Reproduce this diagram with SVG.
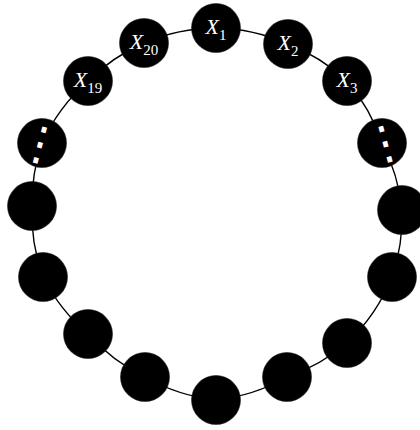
<svg xmlns="http://www.w3.org/2000/svg" width="420" height="430" viewBox="0 0 420 430">
<style>
.node{fill:#000;stroke:#222;stroke-width:0.6}
.edge{fill:none;stroke:#000;stroke-width:1.4}
.lbl{fill:#fff;font-family:"Liberation Serif",serif;font-size:22px;font-style:italic;text-anchor:middle}
.sub{font-size:15px;font-style:normal}
.dots{fill:#fff;font-family:"Noto Sans CJK SC",sans-serif;font-size:46px;text-anchor:middle}
</style>
<rect width="420" height="430" fill="#fff"/>
<g id="connectors">
<path class="edge" d="M216,28 A186,186 0 0 1 288,44 A186,186 0 0 1 347,81 A186,186 0 0 1 382,143 A186,186 0 0 1 402,210 A186,186 0 0 1 392,277 A186,186 0 0 1 347,343 A186,186 0 0 1 287,377 A186,186 0 0 1 216,400 A186,186 0 0 1 145,377 A186,186 0 0 1 88,334 A186,186 0 0 1 43,277 A186,186 0 0 1 32,206 A186,186 0 0 1 42,143 A186,186 0 0 1 88,81 A186,186 0 0 1 144,43 A186,186 0 0 1 216,28 Z"/>
</g>
<g id="n1"><circle class="node" cx="216" cy="28" r="24.5"/><text class="lbl" x="216" y="34">X<tspan class="sub" dy="6">1</tspan></text></g>
<g id="n2"><circle class="node" cx="288" cy="44" r="24.5"/><text class="lbl" x="288" y="50">X<tspan class="sub" dy="6">2</tspan></text></g>
<g id="n3"><circle class="node" cx="347" cy="81" r="24.5"/><text class="lbl" x="347" y="87">X<tspan class="sub" dy="6">3</tspan></text></g>
<g id="n4"><circle class="node" cx="382" cy="143" r="24.5"/><text class="dots" x="0" y="15" transform="translate(385,144) rotate(-15)">⋮</text></g>
<g id="n5"><circle class="node" cx="402" cy="210" r="24.5"/></g>
<g id="n6"><circle class="node" cx="392" cy="277" r="24.5"/></g>
<g id="n7"><circle class="node" cx="347" cy="343" r="24.5"/></g>
<g id="n8"><circle class="node" cx="287" cy="377" r="24.5"/></g>
<g id="n9"><circle class="node" cx="216" cy="400" r="24.5"/></g>
<g id="n10"><circle class="node" cx="145" cy="377" r="24.5"/></g>
<g id="n11"><circle class="node" cx="88" cy="334" r="24.5"/></g>
<g id="n12"><circle class="node" cx="43" cy="277" r="24.5"/></g>
<g id="n13"><circle class="node" cx="32" cy="206" r="24.5"/></g>
<g id="n14"><circle class="node" cx="42" cy="143" r="24.5"/><text class="dots" x="0" y="15" transform="translate(40,144) rotate(15)">⋮</text></g>
<g id="n15"><circle class="node" cx="88" cy="81" r="24.5"/><text class="lbl" x="88" y="87">X<tspan class="sub" dy="6">19</tspan></text></g>
<g id="n16"><circle class="node" cx="144" cy="43" r="24.5"/><text class="lbl" x="144" y="49">X<tspan class="sub" dy="6">20</tspan></text></g>
</svg>
